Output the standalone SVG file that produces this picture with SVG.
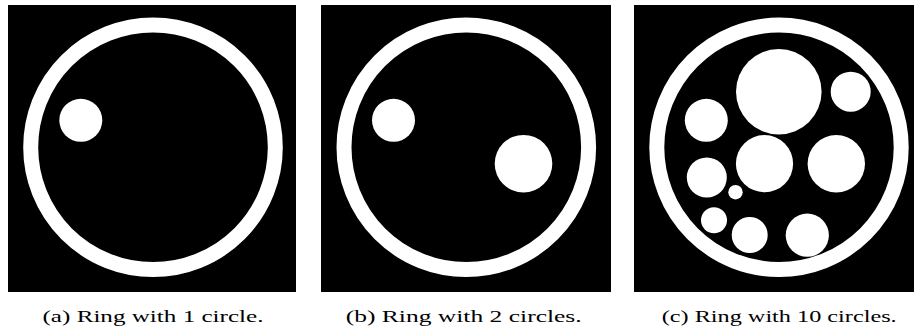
<svg xmlns="http://www.w3.org/2000/svg" width="914" height="328" viewBox="0 0 914 328">
<style>
.bg{fill:#000}
.ring{fill:none;stroke:#fff;stroke-width:15}
.dot{fill:#fff}
.cap{font-family:"Liberation Serif","DejaVu Serif",serif;font-size:17px;fill:#000}
</style>
<rect width="914" height="328" fill="#fff"/>
<g id="panel-a">
<rect class="bg" x="8" y="5" width="288" height="287"/>
<circle class="ring" cx="153" cy="147.3" r="122.3"/>
<circle class="dot" cx="80.8" cy="120.3" r="21.5"/>
<text class="cap" x="42.5" y="321.5" textLength="221" lengthAdjust="spacingAndGlyphs">(a) Ring with 1 circle.</text>
</g>
<g id="panel-b">
<rect class="bg" x="321" y="5" width="290" height="287"/>
<circle class="ring" cx="466.3" cy="147.3" r="122.3"/>
<circle class="dot" cx="393.5" cy="120.3" r="21.5"/>
<circle class="dot" cx="523.5" cy="163.7" r="28.8"/>
<text class="cap" x="345.7" y="321.5" textLength="236" lengthAdjust="spacingAndGlyphs">(b) Ring with 2 circles.</text>
</g>
<g id="panel-c">
<rect class="bg" x="634" y="5" width="280" height="287"/>
<circle class="ring" cx="779" cy="147.3" r="122.2"/>
<circle class="dot" cx="778.8" cy="91.7" r="42.8"/>
<circle class="dot" cx="850.7" cy="91.7" r="20"/>
<circle class="dot" cx="706.3" cy="120.3" r="21.5"/>
<circle class="dot" cx="764.5" cy="163.7" r="28.6"/>
<circle class="dot" cx="836.3" cy="163.7" r="28.7"/>
<circle class="dot" cx="706.8" cy="177.5" r="20"/>
<circle class="dot" cx="735.5" cy="192.2" r="7.2"/>
<circle class="dot" cx="714" cy="220.2" r="13"/>
<circle class="dot" cx="749.7" cy="235" r="18"/>
<circle class="dot" cx="807.3" cy="235.2" r="21.6"/>
<text class="cap" x="661.7" y="321.5" textLength="235" lengthAdjust="spacingAndGlyphs">(c) Ring with 10 circles.</text>
</g>
</svg>
